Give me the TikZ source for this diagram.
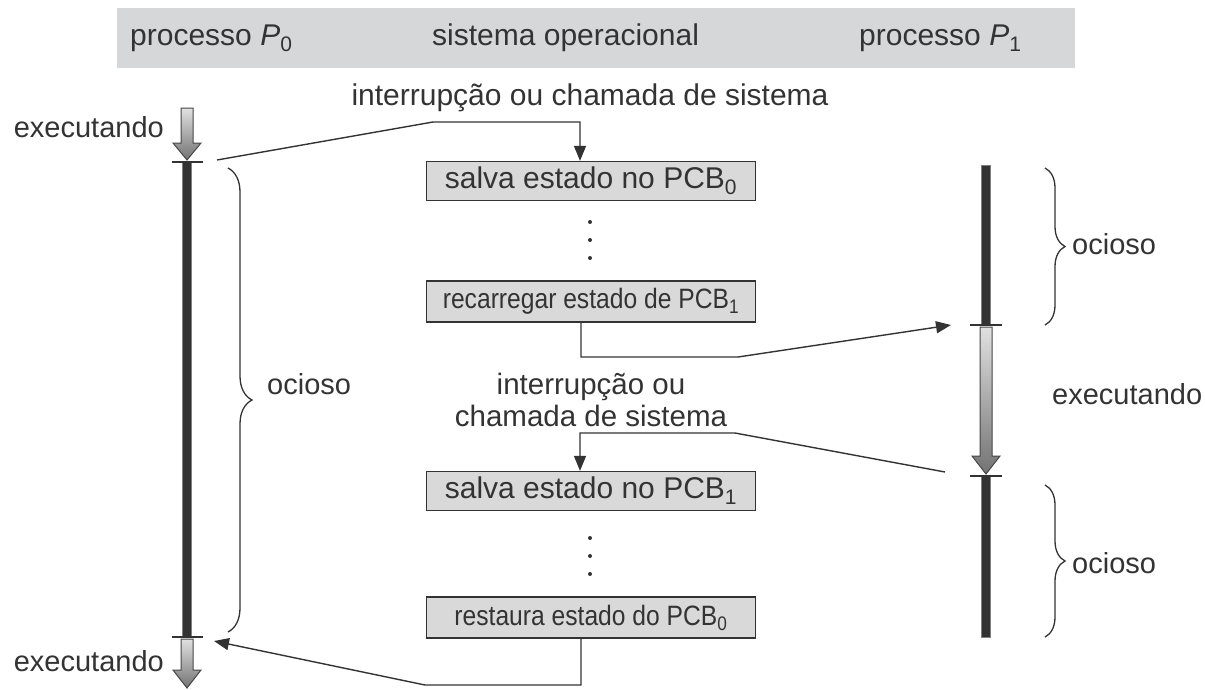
\documentclass[tikz,border=0pt]{standalone}
\usepackage{fontspec}
\setmainfont{Liberation Sans}
\newfontfamily\narrowsans{Liberation Sans}[FakeStretch=0.88]
\usetikzlibrary{arrows.meta,decorations.pathreplacing}

\definecolor{ink}{HTML}{333333}
\definecolor{bandgray}{HTML}{D6D7D8}
\definecolor{boxgray}{HTML}{D9D9D9}
\definecolor{barcol}{HTML}{333333}

\tikzset{
  lbl/.style={text=ink, inner sep=0pt, font=\fontsize{29}{32}\selectfont},
  hdr/.style={text=ink, inner sep=0pt, font=\fontsize{30}{32}\selectfont},
  opbox/.style={draw=ink, fill=boxgray, line width=1.3pt, minimum width=329pt,
                text=ink, inner sep=0pt, font=\fontsize{30}{32}\selectfont},
  smallbox/.style={opbox, font=\narrowsans\fontsize{28}{30}\selectfont},
  conn/.style={draw=ink, line width=1.4pt},
  tipd/.style={-{Triangle[length=15pt,width=12pt]}},
  bar/.style={draw=gray, fill=barcol, line width=0.8pt},
  tick/.style={draw=ink, line width=1.2pt},
  runarrow/.style={draw=ink!90, line width=1pt, top color=white!88!black, bottom color=black!55},
  idle/.style={draw=ink, line width=1.3pt, decorate,
               decoration={brace, amplitude=#1}},
  dot/.style={fill=ink, circle, inner sep=0pt, minimum size=4pt}
}

\begin{document}
\begin{tikzpicture}[x=1pt, y=-1pt]
  \useasboundingbox (0,0) rectangle (1205,689);

  % header band with the three column titles
  \node[fill=bandgray, minimum width=958pt, minimum height=60pt, inner sep=0pt, anchor=north west] (band) at (117,8) {};
  \node[hdr, anchor=west] (hp0) at (130,38) {processo \textit{P}\textsubscript{0}};
  \node[hdr, anchor=west] (hso) at (432,38) {sistema operacional};
  \node[hdr, anchor=west] (hp1) at (859,38) {processo \textit{P}\textsubscript{1}};

  % timeline of P0
  \coordinate (p0a) at (187,162);
  \coordinate (p0b) at (187,637);
  \shade[runarrow] (181,108) -- (193,108) -- (193,143) -- (201,143) -- (187,160)
        -- (173,143) -- (181,143) -- cycle;
  \draw[bar] (182.5,162) rectangle (191.5,637);
  \draw[tick] (172,162) -- (203,162);
  \draw[tick] (172,637) -- (203,637);
  \shade[runarrow] (181,639) -- (193,639) -- (193,670) -- (201,670) -- (187,688)
        -- (173,670) -- (181,670) -- cycle;
  \node[lbl, anchor=east] (ex0a) at (164,127) {executando};
  \node[lbl, anchor=east] (ex0b) at (164,661) {executando};
  \draw[idle=24pt] (228,168) -- (228,632);
  \node[lbl, anchor=west] (oc0) at (267,384) {ocioso};

  % timeline of P1
  \coordinate (p1a) at (986,325);
  \coordinate (p1b) at (986,476);
  \draw[bar] (981.5,165) rectangle (990.5,325);
  \draw[bar] (981.5,476) rectangle (990.5,637);
  \shade[runarrow] (980,327) -- (992,327) -- (992,456) -- (1000,456) -- (986,474)
        -- (972,456) -- (980,456) -- cycle;
  \draw[tick] (970,325) -- (1002,325);
  \draw[tick] (970,476) -- (1002,476);
  \draw[idle=20pt] (1045,168) -- (1045,325);
  \draw[idle=20pt] (1045,485) -- (1045,637);
  \node[lbl, anchor=west] (oc1a) at (1072,244) {ocioso};
  \node[lbl, anchor=west] (ex1) at (1052,394) {executando};
  \node[lbl, anchor=west] (oc1b) at (1072,563) {ocioso};

  % operating system actions
  \node[opbox, minimum height=39pt] (b1) at (591,181) {salva estado no PCB\textsubscript{0}};
  \node[smallbox, minimum height=41pt] (b2) at (591,301.5) {recarregar estado de PCB\textsubscript{1}};
  \node[opbox, minimum height=39pt] (b3) at (591,491) {salva estado no PCB\textsubscript{1}};
  \node[smallbox, minimum height=41pt] (b4) at (591,617.5) {restaura estado do PCB\textsubscript{0}};
  \foreach \y in {222,240,258,538,556,574} \node[dot] at (590,\y) {};

  \node[lbl, font=\fontsize{30}{32}\selectfont] (int1) at (590,98) {interrupção ou chamada de sistema};
  \node[lbl, font=\fontsize{29.5}{32}\selectfont] (int2a) at (591,387) {interrupção ou};
  \node[lbl, font=\fontsize{29.5}{32}\selectfont] (int2b) at (591,416) {chamada de sistema};

  % control transfers
  \coordinate (c1s) at (217,160);
  \coordinate (c2e) at (951,325);
  \coordinate (c3s) at (945,472);
  \coordinate (c4e) at (214,641);
  \draw[conn, tipd] (c1s) -- (433,122) -| ([xshift=-11pt]b1.north);
  \draw[conn, tipd] ([xshift=-10pt]b2.south) |- (738,357) -- (c2e);
  \draw[conn, tipd] (c3s) -- (735,433) -| ([xshift=-11pt]b3.north);
  \draw[conn, tipd] ([xshift=-10pt]b4.south) |- (425,685) -- (c4e);
\end{tikzpicture}
\end{document}
